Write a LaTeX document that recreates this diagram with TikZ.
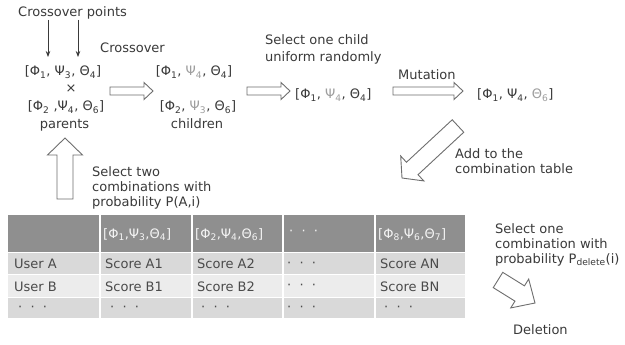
\documentclass[tikz,border=0pt]{standalone}
\usepackage{fontspec}
\setmainfont{DejaVu Sans}
\usetikzlibrary{calc,arrows.meta}
\definecolor{txt}{HTML}{3A3A3A}
\definecolor{gry}{HTML}{9E9E9E}
\definecolor{hdr}{HTML}{8F8F8F}
\definecolor{hdrtxt}{HTML}{F4F4F4}
\definecolor{rowa}{HTML}{D9D9D9}
\definecolor{rowb}{HTML}{ECECEC}
\definecolor{celltxt}{HTML}{4A4A4A}
\definecolor{aline}{HTML}{6E6E6E}
\newcommand{\lo}[1]{\textsubscript{#1}}
\newcommand{\gr}[1]{{\color{gry}#1}}
\newcommand{\blockarrow}[5]{%
  \coordinate (ba-h) at ($(#2)!#5!(#1)$);
  \draw[harrow] ($(#1)!#3!-90:(#2)$) -- ($(ba-h)!#3!-90:(#2)$) -- ($(ba-h)!#4!-90:(#2)$) -- (#2) -- ($(ba-h)!#4!90:(#2)$) -- ($(ba-h)!#3!90:(#2)$) -- ($(#1)!#3!90:(#2)$) -- cycle;}
\tikzset{
  lbl/.style={text=txt, inner sep=0pt, font=\fontsize{13}{15}\selectfont},
  lbl17/.style={lbl, font=\fontsize{13}{17}\selectfont},
  harrow/.style={draw=aline, fill=white, line width=0.9pt, line join=miter},
  thinarrow/.style={draw=txt, line width=0.8pt, -{Stealth[length=6pt,width=4.5pt]}},
  hcell/.style={text=hdrtxt, inner sep=0pt, anchor=base west, font=\fontsize{13}{15}\selectfont},
  bcell/.style={text=celltxt, inner sep=0pt, anchor=base west, font=\fontsize{13}{15}\selectfont},
  sepline/.style={draw=white, line width=1.2pt}
}
\begin{document}
\begin{tikzpicture}[x=1pt,y=-1pt]
\useasboundingbox[fill=white] (0,0) rectangle (625,345);

% crossover points
\node[lbl, anchor=base west] (cpts) at (18,17) {Crossover points};
\coordinate (cp1s) at (48,20);
\coordinate (cp1e) at (48,57);
\coordinate (cp2s) at (78,20);
\coordinate (cp2e) at (78,57);
\draw[thinarrow] (cp1s) -- (cp1e);
\draw[thinarrow] (cp2s) -- (cp2e);

\node[lbl, anchor=base west] (xlab) at (100,53) {Crossover};

% parents
\node[lbl, anchor=base] (p1) at (63,76) {[Φ\lo{1}, Ψ\lo{3}, Θ\lo{4}]};
\node[lbl, anchor=center] (times) at (71,89) {×};
\node[lbl, anchor=base] (p2) at (66,111) {[Φ\lo{2} ,Ψ\lo{4}, Θ\lo{6}]};
\node[lbl, anchor=base] (par) at (64.5,129) {parents};

% children
\node[lbl, anchor=base] (c1) at (194,76) {[Φ\lo{1}, \gr{Ψ\lo{4}}, Θ\lo{4}]};
\node[lbl, anchor=base] (c2) at (198,111) {[Φ\lo{2}, \gr{Ψ\lo{3}}, Θ\lo{6}]};
\node[lbl, anchor=base] (chl) at (197,129) {children};

% select one child
\node[lbl17, anchor=base west, align=left] (sel) at (265,62) {Select one child\\uniform randomly};
\node[lbl, anchor=base west] (m1) at (295,99) {[Φ\lo{1}, \gr{Ψ\lo{4}}, Θ\lo{4}]};

% mutation
\node[lbl, anchor=base west] (mut) at (398,80) {Mutation};
\node[lbl, anchor=base west] (m2) at (477,99) {[Φ\lo{1}, Ψ\lo{4}, \gr{Θ\lo{6}}]};

% horizontal block arrows
\coordinate (a1s) at (110,91); \coordinate (a1e) at (153,91);
\coordinate (a2s) at (247,91); \coordinate (a2e) at (290,91);
\coordinate (a3s) at (393,91); \coordinate (a3e) at (463,91);
\blockarrow{a1s}{a1e}{4pt}{8.5pt}{9pt}
\blockarrow{a2s}{a2e}{4pt}{8.5pt}{9pt}
\blockarrow{a3s}{a3e}{4pt}{8.5pt}{9pt}

% add to table arrow
\coordinate (a4s) at (458,126); \coordinate (a4e) at (402,178);
\blockarrow{a4s}{a4e}{8.5pt}{17pt}{14pt}
\node[lbl, anchor=base west, align=left] (add) at (455,174) {Add to the\\combination table};

% up arrow
\coordinate (a5s) at (65,199); \coordinate (a5e) at (65,138);
\blockarrow{a5s}{a5e}{8pt}{17.5pt}{17pt}
\node[lbl, anchor=base west, align=left] (seltwo) at (92,207) {Select two\\combinations with\\probability P(A,i)};

% table
\fill[hdr] (8,215) rectangle (465,252);
\fill[rowa] (8,252) rectangle (465,274);
\fill[rowb] (8,274) rectangle (465,297);
\fill[rowa] (8,297) rectangle (465,318);
\foreach \xx in {100,192,283,375} \draw[sepline] (\xx,215) -- (\xx,318);
\foreach \yy in {252,274,297} \draw[sepline, line width=0.8pt] (8,\yy) -- (465,\yy);

\node[hcell] (h2) at (103,238) {[Φ\lo{1},Ψ\lo{3},Θ\lo{4}]};
\node[hcell] (h3) at (195,238) {[Φ\lo{2},Ψ\lo{4},Θ\lo{6}]};
\node[hcell] (h4) at (289,236) {·\ \ ·\ \ ·};
\node[hcell] (h5) at (378,238) {[Φ\lo{8},Ψ\lo{6},Θ\lo{7}]};

\node[bcell] (r1c1) at (14,269) {User A};
\node[bcell] (r1c2) at (105,269) {Score A1};
\node[bcell] (r1c3) at (197,269) {Score A2};
\node[bcell] (r1c4) at (287,267) {·\ \ ·\ \ ·};
\node[bcell] (r1c5) at (380,269) {Score AN};

\node[bcell] (r2c1) at (14,291) {User B};
\node[bcell] (r2c2) at (105,291) {Score B1};
\node[bcell] (r2c3) at (197,291) {Score B2};
\node[bcell] (r2c4) at (287,289) {·\ \ ·\ \ ·};
\node[bcell] (r2c5) at (380,291) {Score BN};

\node[bcell] (r3c1) at (18,311) {·\ \ ·\ \ ·};
\node[bcell] (r3c2) at (110,311) {·\ \ ·\ \ ·};
\node[bcell] (r3c3) at (201,311) {·\ \ ·\ \ ·};
\node[bcell] (r3c4) at (287,311) {·\ \ ·\ \ ·};
\node[bcell] (r3c5) at (384,311) {·\ \ ·\ \ ·};

% deletion
\node[lbl, anchor=base west, align=left] (selone) at (495,263) {Select one\\combination with\\probability P\textsubscript{delete}(i)};
\coordinate (a6s) at (498,280); \coordinate (a6e) at (535,303);
\blockarrow{a6s}{a6e}{9pt}{17pt}{18pt}
\node[lbl, anchor=base west] (del) at (513,334) {Deletion};
\end{tikzpicture}
\end{document}
